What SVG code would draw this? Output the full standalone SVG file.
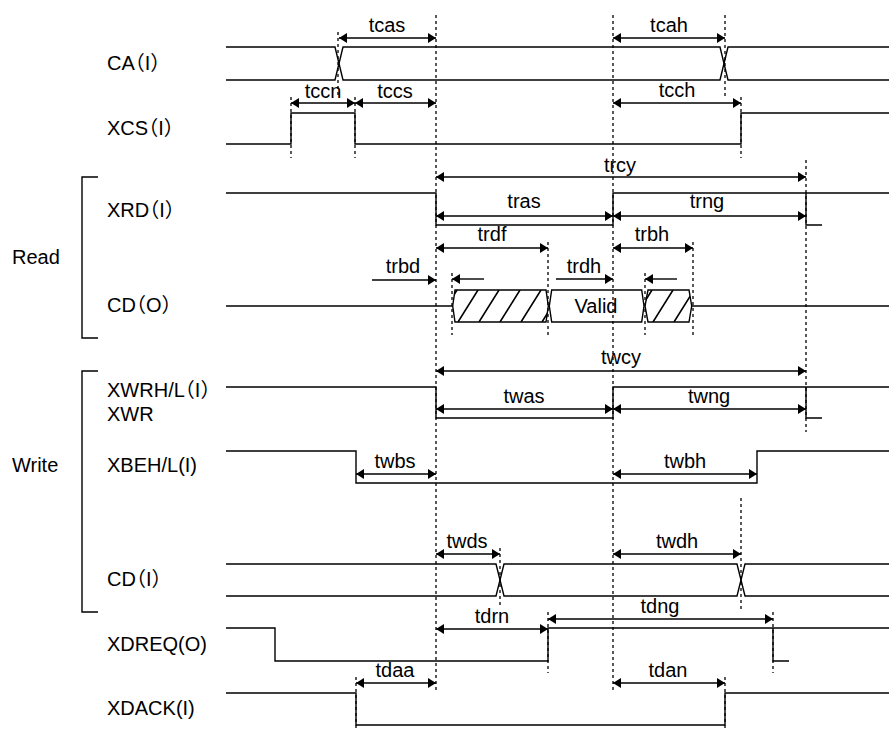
<svg xmlns="http://www.w3.org/2000/svg" width="889" height="731" viewBox="0 0 889 731">
<style>
text{font-family:"Liberation Sans",Arial,"Noto Sans CJK JP",sans-serif;font-size:20px;fill:#000}
.t{text-anchor:middle}
.sig{fill:none;stroke:#000;stroke-width:1.4}
.dot{fill:none;stroke:#000;stroke-width:1.3;stroke-dasharray:3,3}
.arr{fill:none;stroke:#000;stroke-width:1.4;marker-start:url(#ah);marker-end:url(#ah)}
.arr1{fill:none;stroke:#000;stroke-width:1.4;marker-end:url(#ah)}
.hatch{fill:none;stroke:#000;stroke-width:1.6}
</style>
<defs>
<marker id="ah" viewBox="0 0 8 10" refX="8" refY="5" markerWidth="8" markerHeight="10" markerUnits="userSpaceOnUse" orient="auto-start-reverse">
<path d="M0,0 L8,5 L0,10 z" fill="#000"/>
</marker>
<clipPath id="c1"><path d="M452.7,306 L455,290 L546,290 L548.3,306 L546,322 L455,322 Z"/></clipPath>
<clipPath id="c2"><path d="M645,306 L648,290 L689,290 L691.7,306 L689,322 L648,322 Z"/></clipPath>
</defs>
<rect width="889" height="731" fill="#fff"/>

<g id="group-labels">
<text x="12" y="264">Read</text>
<text x="12" y="472">Write</text>
<path class="sig" d="M98,177 H82 V338 H98"/>
<path class="sig" d="M98,371 H82 V612 H98"/>
</g>

<g id="sig-CA">
<text x="107" y="70" dx="0 0 -10 0 0">CA（I）</text>
<path class="sig" d="M226,47 H335 L343,80 H720 L728,47 H889"/>
<path class="sig" d="M226,80 H335 L343,47 H720 L728,80 H889"/>
</g>

<g id="sig-XCS">
<text x="107" y="135" dx="0 0 0 -10 0 0">XCS（I）</text>
<path class="sig" d="M226,144 H291 V113 H355 V144 H741 V113 H889"/>
</g>

<g id="sig-XRD">
<text x="107" y="217" dx="0 0 0 -10 0 0">XRD（I）</text>
<path class="sig" d="M226,193 H436 V225 H613 V193 H889"/>
<path class="sig" d="M806,193 V225 H822"/>
</g>

<g id="sig-CDO">
<text x="107" y="312" dx="0 0 -10 0 0">CD（O）</text>
<path class="sig" d="M226,306 H452.7"/>
<path class="sig" d="M691.7,306 H889"/>
<path class="sig" d="M452.7,306 L455,290 L546,290 L548.3,306 L546,322 L455,322 Z"/>
<path class="sig" d="M549.3,306 L551.7,290 L641.7,290 L644,306 L641.7,322 L551.7,322 Z"/>
<path class="sig" d="M645,306 L648,290 L689,290 L691.7,306 L689,322 L648,322 Z"/>
<g clip-path="url(#c1)">
<path class="hatch" d="M437,322 l20,-32 M458,322 l20,-32 M479,322 l20,-32 M500,322 l20,-32 M521,322 l20,-32 M542,322 l20,-32"/>
</g>
<g clip-path="url(#c2)">
<path class="hatch" d="M632,322 l20,-32 M653,322 l20,-32 M674,322 l20,-32"/>
</g>
<text class="t" x="596" y="313">Valid</text>
</g>

<g id="sig-XWRHL">
<text x="107" y="397" dx="0 0 0 0 0 0 -10 0 0">XWRH/L（I）</text>
<text x="107" y="421">XWR</text>
<path class="sig" d="M226,387 H436 V418 H613 V387 H889"/>
<path class="sig" d="M806,387 V418 H822"/>
</g>

<g id="sig-XBEHL">
<text x="107" y="472">XBEH/L(I)</text>
<path class="sig" d="M226,451 H356 V483 H757 V451 H889"/>
</g>

<g id="sig-CDI">
<text x="107" y="586" dx="0 0 -10 0 0">CD（I）</text>
<path class="sig" d="M226,564 H496 L504,596 H737 L745,564 H889"/>
<path class="sig" d="M226,596 H496 L504,564 H737 L745,596 H889"/>
</g>

<g id="sig-XDREQ">
<text x="107" y="651">XDREQ(O)</text>
<path class="sig" d="M226,628 H275 V661 H548 V628 H889"/>
<path class="sig" d="M773,628 V661 H789"/>
</g>

<g id="sig-XDACK">
<text x="107" y="715">XDACK(I)</text>
<path class="sig" d="M226,693 H356 V725 H725 V693 H889"/>
</g>

<g id="guides">
<path class="dot" d="M338,32 V97 M436,15 V693 M613,15 V693 M725,15 V97 M741,97 V158 M291,97 V158 M355,97 V158 M806,160 V432 M548,242 V335 M693,242 V335 M452,273 V335 M645,273 V335 M741,498 V612 M500,548 V608 M548,612 V673 M773,612 V673 M356,677 V731 M725,677 V731"/>
</g>

<g id="connectors">
<path class="arr" d="M339,38 H436"/>
<path class="arr" d="M613,38 H725"/>
<path class="arr" d="M291,103 H355"/>
<path class="arr" d="M355,103 H436"/>
<path class="arr" d="M613,103 H741"/>
<path class="arr" d="M436,177 H806"/>
<path class="arr" d="M436,216 H613"/>
<path class="arr" d="M613,216 H806"/>
<path class="arr" d="M436,248 H548"/>
<path class="arr" d="M613,248 H693"/>
<path class="arr1" d="M372,280 H436"/>
<path class="arr1" d="M556,279 H613"/>
<path class="arr1" d="M484,279 H452"/>
<path class="arr1" d="M677,279 H645"/>
<path class="arr" d="M436,371 H806"/>
<path class="arr" d="M436,409 H613"/>
<path class="arr" d="M613,409 H806"/>
<path class="arr" d="M356,474 H436"/>
<path class="arr" d="M613,474 H757"/>
<path class="arr" d="M436,554 H500"/>
<path class="arr" d="M613,554 H741"/>
<path class="arr" d="M436,629 H548"/>
<path class="arr" d="M548,619 H773"/>
<path class="arr" d="M356,683 H436"/>
<path class="arr" d="M613,683 H725"/>
</g>

<g id="timing-labels">
<text class="t" x="387" y="32">tcas</text>
<text class="t" x="669" y="32">tcah</text>
<text class="t" x="323" y="98">tccn</text>
<text class="t" x="395" y="98">tccs</text>
<text class="t" x="677" y="97">tcch</text>
<text class="t" x="620" y="172">trcy</text>
<text class="t" x="524" y="208">tras</text>
<text class="t" x="707" y="208">trng</text>
<text class="t" x="492" y="241">trdf</text>
<text class="t" x="652" y="241">trbh</text>
<text class="t" x="403" y="273">trbd</text>
<text class="t" x="584" y="273">trdh</text>
<text class="t" x="621" y="364">twcy</text>
<text class="t" x="524" y="403">twas</text>
<text class="t" x="709" y="403">twng</text>
<text class="t" x="395" y="468">twbs</text>
<text class="t" x="685" y="468">twbh</text>
<text class="t" x="467" y="548">twds</text>
<text class="t" x="677" y="548">twdh</text>
<text class="t" x="492" y="623">tdrn</text>
<text class="t" x="660" y="613">tdng</text>
<text class="t" x="395" y="677">tdaa</text>
<text class="t" x="668" y="677">tdan</text>
</g>
</svg>
